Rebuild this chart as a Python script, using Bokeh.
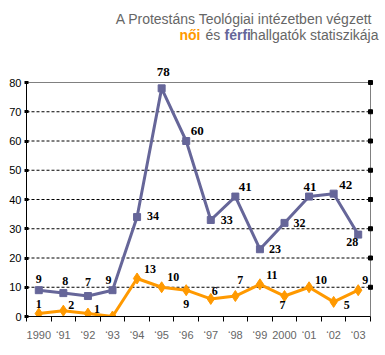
from bokeh.plotting import figure
from bokeh.models import (ColumnDataSource, Range1d, FixedTicker, LabelSet, Label)
from bokeh.embed import file_html
from bokeh.resources import INLINE

# ---- data ----
years = ["1990", "‘91", "‘92", "‘93", "‘94", "‘95", "‘96", "‘97", "‘98", "‘99",
         "2000", "‘01", "‘02", "‘03"]
ferfi = [9, 8, 7, 9, 34, 78, 60, 33, 41, 23, 32, 41, 42, 28]
noi = [1, 2, 1, 0, 13, 10, 9, 6, 7, 11, 7, 10, 5, 9]
y_ticks = [0, 10, 20, 30, 40, 50, 60, 70, 80]

# ---- label placement (screen px: dx right, dy down) ----
ferfi_off = [(0, -11), (2, -12), (0, -14), (-4, -10), (16, -1), (1.5, -16), (11, -10.5),
             (16, 0), (10, -10), (15, 0), (15, 0), (1, -10), (12, -9), (-6, 7)]
ferfi_serif = [5, 6, 8, 11, 12]
noi_off = [(0, -10), (8, -6), (9, -5), (0, 0), (13, -9), (11.5, -10), (0, 14),
           (4, -8), (5, -16), (12, -9.5), (-2, 9), (12, -7.5), (13, 3), (7, -10)]

PURPLE = "#666699"
ORANGE = "#FF9900"
GRAY = "#666666"

# ---- layout: plot area 26..370 px wide, y=80 at 82 px, y=0 at 316 px ----
W, H = 385, 355
LEFT, BOTTOM = 26, 39
PLOT_W = 344
PLOT_H = 234
n = len(years)
px_cat = PLOT_W / n
px_unit = PLOT_H / y_ticks[-1]
x_lo = -0.5
x_hi = x_lo + (W - LEFT) / px_cat
y_hi = (H - BOTTOM) / px_unit
x_end = n - 0.5

xs = list(range(n))

p = figure(width=W, height=H, output_backend="svg", toolbar_location=None,
           x_range=Range1d(x_lo, x_hi), y_range=Range1d(0, y_hi),
           min_border_left=LEFT, min_border_right=0, min_border_top=0,
           min_border_bottom=BOTTOM, background_fill_color="white",
           border_fill_color="white")
p.outline_line_color = None
p.xgrid.visible = False
p.ygrid.visible = False

# dashed gridlines (10..70) and gray frame lines (top at 80, right)
grid_vals = y_ticks[1:-1]
p.segment(x0=[x_lo] * len(grid_vals), y0=grid_vals, x1=[x_end] * len(grid_vals),
          y1=grid_vals, line_color="black", line_dash="3 2", line_width=1)
p.segment(x0=[x_lo, x_end], y0=[y_ticks[-1], 0], x1=[x_end, x_end],
          y1=[y_ticks[-1], y_ticks[-1]], line_color="#808080", line_width=1)
# right-hand tick marks
p.scatter([x_end] * (len(y_ticks) - 1), y_ticks[1:], marker="square", size=4,
          fill_color="black", line_color="black")

# left axis
ya = p.yaxis[0]
ya.bounds = (0, y_ticks[-1])
ya.ticker = FixedTicker(ticks=y_ticks)
ya.axis_line_color = "black"
ya.major_tick_line_color = "black"
ya.major_tick_line_width = 3
ya.major_tick_in = 2
ya.major_tick_out = 2
ya.minor_tick_line_color = None
ya.major_label_standoff = 3
ya.major_label_text_font = "Liberation Sans"
ya.major_label_text_font_size = "11px"
ya.major_label_text_color = "black"

# bottom axis
xa = p.xaxis[0]
xa.bounds = (x_lo, x_end)
xa.ticker = FixedTicker(ticks=xs, minor_ticks=[i - 0.5 for i in range(n + 1)])
xa.major_label_overrides = {i: y for i, y in enumerate(years)}
xa.axis_line_color = "black"
xa.major_tick_line_color = None
xa.major_tick_out = 0
xa.major_tick_in = 0
xa.minor_tick_line_color = "black"
xa.minor_tick_in = 0
xa.minor_tick_out = 5
xa.major_label_standoff = 7
xa.major_label_text_font = "Liberation Sans"
xa.major_label_text_font_size = "11px"
xa.major_label_text_color = GRAY

# series
p.line(xs, ferfi, line_color=PURPLE, line_width=3)
p.scatter(xs, ferfi, marker="square", size=7, fill_color=PURPLE, line_color=PURPLE)
p.line(xs, noi, line_color=ORANGE, line_width=3)
p.scatter(xs, noi, marker="diamond", size=11, fill_color=ORANGE, line_color=ORANGE)

# value labels
def make_src(idx, vals, offs):
    return ColumnDataSource(dict(
        x=[xs[i] for i in idx], y=[vals[i] for i in idx],
        t=[str(vals[i]) for i in idx],
        dx=[offs[i][0] for i in idx], dy=[-offs[i][1] for i in idx]))

sans_idx = [i for i in xs if i not in ferfi_serif]
for idx, font, size in ((sans_idx, "Liberation Sans", "12px"),
                        (ferfi_serif, "Liberation Serif", "13px")):
    p.add_layout(LabelSet(x="x", y="y", text="t", x_offset="dx", y_offset="dy",
                          source=make_src(idx, ferfi, ferfi_off),
                          text_font=font, text_font_size=size, text_font_style="bold",
                          text_color="black", text_align="center",
                          text_baseline="middle"))
noi_idx = [i for i in xs if noi[i] != 0]
p.add_layout(LabelSet(x="x", y="y", text="t", x_offset="dx", y_offset="dy",
                      source=make_src(noi_idx, noi, noi_off),
                      text_font="Liberation Sans", text_font_size="12px",
                      text_font_style="bold", text_color="black",
                      text_align="center", text_baseline="middle"))

# title (screen units relative to frame bottom-left)
def title_part(txt, px, py, color, bold, size, align="left"):
    p.add_layout(Label(x=px - LEFT, y=(H - BOTTOM) - py, x_units="screen",
                       y_units="screen", text=txt, text_font="Liberation Sans",
                       text_font_size=size,
                       text_font_style="bold" if bold else "normal",
                       text_color=color, text_align=align, text_baseline="middle"))

title_part("A Protestáns Teológiai intézetben végzett", 372, 18, GRAY, False, "14px", "right")
title_part("női", 179, 34, ORANGE, True, "14px")
title_part("és", 205, 34, GRAY, False, "14px")
title_part("férfi", 224, 34, PURPLE, True, "14px")
title_part("hallgatók statiszikája", 378, 34, GRAY, False, "14px", "right")

open("out.html", "w").write(file_html(p, INLINE))
